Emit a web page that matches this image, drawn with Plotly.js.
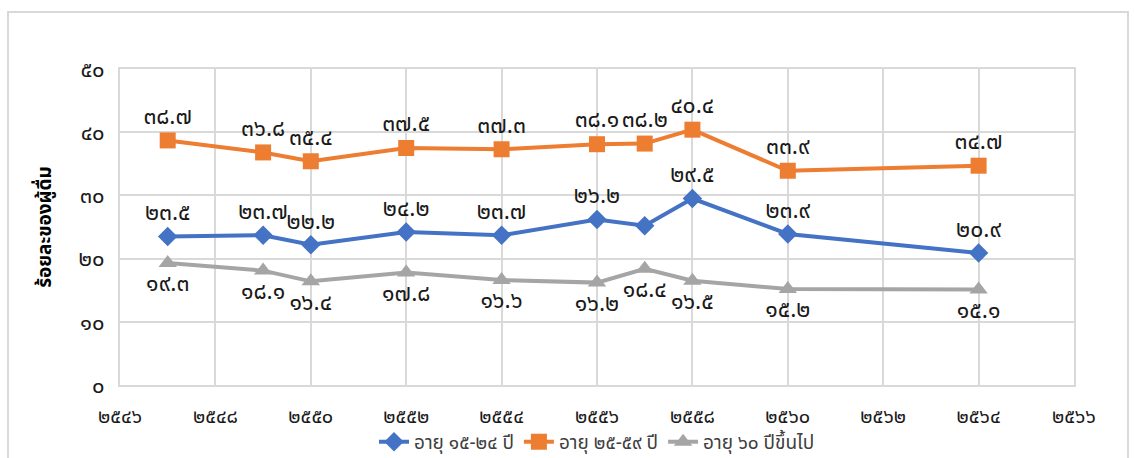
<!DOCTYPE html>
<html>
<head>
<meta charset="utf-8">
<script src="https://cdn.plot.ly/plotly-3.0.1.min.js"></script>
<style>
html,body{margin:0;padding:0;background:#fff;}
#chart{width:1134px;height:458px;}
</style>
</head>
<body>
<div id="chart"></div>
<script>
const years = [2547, 2549, 2550, 2552, 2554, 2556, 2557, 2558, 2560, 2564];
const age15_24 = [23.5, 23.7, 22.2, 24.2, 23.7, 26.2, 25.2, 29.5, 23.9, 20.9];
const age25_59 = [38.7, 36.8, 35.4, 37.5, 37.3, 38.1, 38.2, 40.4, 33.9, 34.7];
const age60up = [19.3, 18.1, 16.4, 17.8, 16.6, 16.2, 18.4, 16.5, 15.2, 15.1];
const showLabel15_24 = [true, true, true, true, true, true, false, true, true, true];
const seriesNames = ["อายุ ๑๕-๒๔ ปี", "อายุ ๒๕-๕๙ ปี", "อายุ ๖๐ ปีขึ้นไป"];
const xTickVals = [2546, 2548, 2550, 2552, 2554, 2556, 2558, 2560, 2562, 2564, 2566];
const yTickVals = [0, 10, 20, 30, 40, 50];
const yTitle = "ร้อยละของผู้ดื่ม";

const thaiDigits = "๐๑๒๓๔๕๖๗๘๙";
function toThai(v){ return String(v).replace(/[0-9]/g, d => thaiDigits[+d]); }
function fmt1(v){ return toThai(v.toFixed(1)); }

const FONT = "'Noto Sans Thai', 'Noto Sans', 'DejaVu Sans', sans-serif";
const lblFont = {family: FONT, size: 23, color: '#1a1a1a'};

const traces = [
  {
    x: years, y: age15_24, name: seriesNames[0], type: 'scatter', mode: 'lines+markers+text',
    line: {color: '#4472C4', width: 4},
    marker: {symbol: 'diamond', size: 15, color: '#4472C4'},
    text: age15_24.map((v,i) => showLabel15_24[i] ? fmt1(v) : ''),
    textposition: 'top center', textfont: lblFont, cliponaxis: false
  },
  {
    x: years, y: age25_59, name: seriesNames[1], type: 'scatter', mode: 'lines+markers+text',
    line: {color: '#ED7D31', width: 4},
    marker: {symbol: 'square', size: 16, color: '#ED7D31'},
    text: age25_59.map(fmt1),
    textposition: 'top center', textfont: lblFont, cliponaxis: false
  },
  {
    x: years, y: age60up, name: seriesNames[2], type: 'scatter', mode: 'lines+markers+text',
    line: {color: '#A5A5A5', width: 4},
    marker: {symbol: 'triangle-up', size: 16, color: '#A5A5A5'},
    text: age60up.map(fmt1),
    textposition: 'bottom center', textfont: lblFont, cliponaxis: false
  }
];

const layout = {
  width: 1134, height: 458,
  margin: {l: 120, r: 60, t: 69, b: 73, autoexpand: false},
  paper_bgcolor: '#ffffff', plot_bgcolor: '#ffffff',
  font: {family: FONT, color: '#1a1a1a'},
  showlegend: true,
  legend: {
    orientation: 'h', x: 0.5, xanchor: 'center', y: -0.18, yanchor: 'middle',
    font: {family: FONT, size: 19, color: '#404040'}
  },
  xaxis: {
    range: [2546, 2566], tickvals: xTickVals, ticktext: xTickVals.map(toThai),
    showgrid: true, gridcolor: '#D9D9D9', gridwidth: 2, automargin: false,
    zeroline: false, showline: true, linecolor: '#D9D9D9', linewidth: 2, mirror: true,
    ticks: '', ticklabelstandoff: 12, tickfont: {family: FONT, size: 20, color: '#1a1a1a'}
  },
  yaxis: {
    range: [0, 50], tickvals: yTickVals, ticktext: yTickVals.map(toThai),
    showgrid: true, gridcolor: '#D9D9D9', gridwidth: 2, automargin: false,
    zeroline: false, showline: true, linecolor: '#D9D9D9', linewidth: 2, mirror: true,
    ticks: '', ticklabelstandoff: 9,
    tickfont: {family: FONT, size: 22, color: '#1a1a1a'},
    title: {text: yTitle, font: {family: FONT, size: 19, color: '#000', weight: 'bold'}, standoff: 22}
  },
  shapes: [{
    type: 'rect', xref: 'paper', yref: 'paper',
    x0: (8-120)/954, x1: (1128-120)/954, y0: (385-480)/316, y1: (385-12)/316,
    line: {color: '#D9D9D9', width: 2}, fillcolor: 'rgba(0,0,0,0)', layer: 'below'
  }]
};

Plotly.newPlot('chart', traces, layout, {displayModeBar: false, staticPlot: true});
</script>
</body>
</html>
